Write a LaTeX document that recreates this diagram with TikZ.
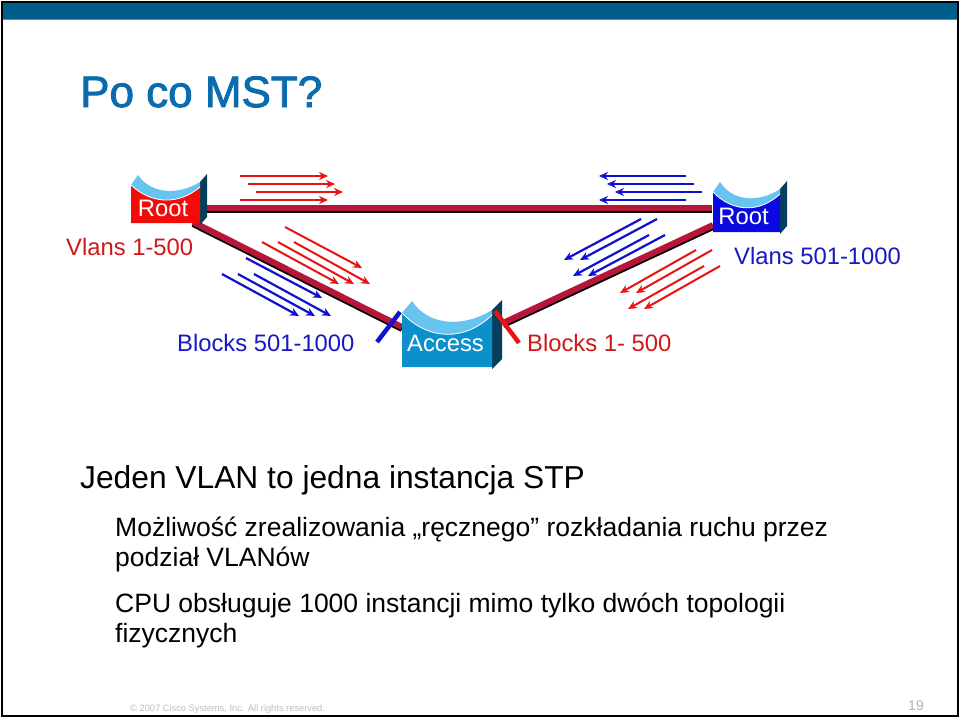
\documentclass[tikz,border=0pt]{standalone}
\usepackage{fontspec}
\setmainfont{Liberation Sans}
\newfontfamily\titlefont[FakeBold=2]{Liberation Sans}
\usetikzlibrary{arrows.meta}
\definecolor{titleblue}{HTML}{0A6CAE}
\definecolor{bar}{HTML}{005C8A}
\definecolor{barline}{HTML}{4F97A8}
\definecolor{sidedark}{HTML}{063F5C}
\definecolor{dish}{HTML}{66C4EE}
\definecolor{accessblue}{HTML}{0C90CC}
\definecolor{rootred}{HTML}{F50A0A}
\definecolor{rootblue}{HTML}{0A0AE0}
\definecolor{linkred}{HTML}{B5163A}
\definecolor{txtred}{HTML}{D01818}
\definecolor{txtblue}{HTML}{1818C4}
\definecolor{arrred}{HTML}{E81414}
\definecolor{arrblue}{HTML}{1010D0}
\tikzset{
 x=1pt,y=-1pt,
 lbl/.style={font=\fontsize{23.8}{26}\selectfont,inner sep=0,anchor=base west},
 swtxt/.style={font=\fontsize{23.8}{26}\selectfont,inner sep=0,anchor=base,text=white},
 rarr/.style={draw=arrred,line width=2pt,-{Stealth[length=9pt,width=8pt]}},
 barr/.style={draw=arrblue,line width=2.2pt,-{Stealth[length=9pt,width=8pt]}},
 linkf/.style={draw=linkred,line width=6pt},
 links/.style={draw=black,line width=6pt},
 body/.style={font=\fontsize{26.5}{30}\selectfont,inner sep=0,anchor=base west,text=black},
}
% #1 x, #2 y (top-left of front), #3 w, #4 h, #5 front colour, #6 depth-x, #7 depth-y
\newcommand{\mysw}[7]{%
 \fill[sidedark] (#1+#3,#2-3) -- (#1+#3+#6,#2-3-#7) -- (#1+#3+#6,#2+#4+2-#7) -- (#1+#3,#2+#4+2) -- cycle;
 \fill[#5] (#1,#2) .. controls (#1+0.3*#3,#2+0.52*#4) and (#1+0.7*#3,#2+0.52*#4) .. (#1+#3,#2+2) -- (#1+#3,#2+#4) -- (#1,#2+#4) -- cycle;
 \fill[dish] (#1,#2) .. controls (#1+0.3*#3,#2+0.52*#4) and (#1+0.7*#3,#2+0.52*#4) .. (#1+#3,#2+2) -- (#1+#3,#2-3) .. controls (#1+0.7*#3,#2+0.26*#4) and (#1+0.3*#3,#2+0.26*#4) .. (#1+#6,#2-#7-2) -- cycle;
 \draw[white,line width=0.8pt] (#1,#2) .. controls (#1+0.3*#3,#2+0.52*#4) and (#1+0.7*#3,#2+0.52*#4) .. (#1+#3,#2+2);
}
\begin{document}
\begin{tikzpicture}
\useasboundingbox (0,0) rectangle (960,718);
\fill[white] (0,0) rectangle (960,718);
\fill[bar] (2,2) rectangle (958,19);
\fill[barline] (2,19) rectangle (958,20);
\draw[black,line width=1.2pt] (2,2) rectangle (958,716);
\node[inner sep=0,anchor=base west,text=titleblue,font=\titlefont\fontsize{44}{48}\selectfont] (title) at (80,107) {Po co MST?};

\coordinate (rl) at (199,208);
\coordinate (rr) at (712,208);
\coordinate (al) at (402,327);
\coordinate (ar) at (503,323);
\coordinate (rl2) at (193,222);
\coordinate (rr2) at (713,225);
\draw[links] ([yshift=-2pt]rl) -- ([yshift=-2pt]rr);
\draw[linkf] (rl) -- (rr);
\draw[links] ([yshift=-2pt]rl2) -- ([yshift=-2pt]al);
\draw[linkf] (rl2) -- (al);
\draw[links] ([yshift=-2pt]ar) -- ([yshift=-2pt]rr2);
\draw[linkf] (ar) -- (rr2);

\mysw{131}{185}{69}{38}{rootred}{7}{8}
\mysw{713}{192}{67}{40}{rootblue}{7}{8}
\mysw{402}{313}{90}{54}{accessblue}{10}{10}
\node[swtxt] (rootl) at (163,216) {Root};
\node[swtxt] (rootr) at (743.5,224) {Root};
\node[swtxt] (access) at (445.5,351) {Access};

\node[lbl,text=txtred] (v1) at (66,255) {Vlans 1-500};
\node[lbl,text=txtblue] (v2) at (734,264) {Vlans 501-1000};
\node[lbl,text=txtblue] (b1) at (177,351) {Blocks 501-1000};
\node[lbl,text=txtred] (b2) at (527,351) {Blocks 1- 500};

\draw[draw=arrblue,line width=4.5pt] (377,342) -- (400,312);
\draw[draw=arrred,line width=4.5pt] (495,311) -- (519,343);

% top arrows
\foreach \a/\b/\y in {240/328/176,248/335/184,256/343/192,240/328/200} \draw[rarr] (\a,\y) -- (\b,\y);
\foreach \a/\b/\y in {686/599/176,694/607/184,702/615/192,686/599/200} \draw[barr] (\a,\y) -- (\b,\y);
% left diagonal
\foreach \a/\b/\c/\d in {285/227/362/268,262/242/339/284,278/242/354/284,294/242/370/284} {\draw[rarr] (\a,\b) -- (\c,\d);}
\foreach \a/\b/\c/\d in {246/258/322/298,222/274/299/316,238/274/315/316,254/274/331/316} {\draw[barr] (\a,\b) -- (\c,\d);}
% right diagonal
\foreach \a/\b/\c/\d in {641/219/564/260,657/219/580/260,649/235/573/276,665/235/588/276} {\draw[barr] (\a,\b) -- (\c,\d);}
\foreach \a/\b/\c/\d in {696/250/620/293,712/250/636/293,704/266/628/309,720/266/644/309} {\draw[rarr] (\a,\b) -- (\c,\d);}

\node[inner sep=0,anchor=base west,font=\fontsize{31.75}{34}\selectfont] (h) at (80,488) {Jeden VLAN to jedna instancja STP};
\node[body] (p1) at (115,536) {Możliwość zrealizowania „ręcznego” rozkładania ruchu przez};
\node[body] (p2) at (115,566) {podział VLANów};
\node[body] (p3) at (115,612) {CPU obsługuje 1000 instancji mimo tylko dwóch topologii};
\node[body] (p4) at (115,642) {fizycznych};
\node[inner sep=0,anchor=base west,text=black!25,font=\fontsize{9.3}{12}\selectfont] (c) at (130,711) {© 2007 Cisco Systems, Inc. All rights reserved.};
\node[inner sep=0,anchor=base east,text=black!30,font=\fontsize{14}{16}\selectfont] (n) at (924,710) {19};
\end{tikzpicture}
\end{document}
